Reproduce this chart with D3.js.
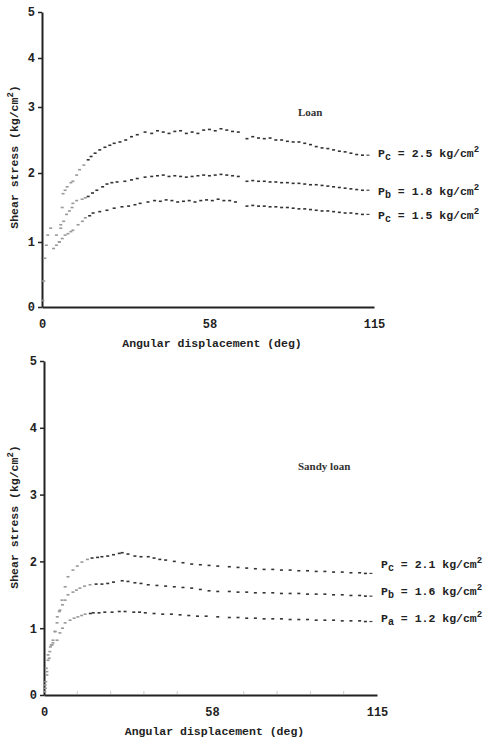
<!DOCTYPE html>
<html>
<head>
<meta charset="utf-8">
<script src="https://cdn.jsdelivr.net/npm/d3@7"></script>
<style>
  body { margin: 0; background: #fff; }
  svg { display: block; }
  .tk text { font-family: "Liberation Mono", monospace; font-weight: bold; font-size: 12px; fill: #222; }
  .lbl { font-family: "Liberation Mono", monospace; font-weight: bold; font-size: 11.5px; fill: #222; }
</style>
</head>
<body>
<svg width="489" height="746"></svg>
<script>
// ---- data: top panel (loan) ----
var loanPc = [[0.3,0.1],[0.6,0.4],[1,0.75],[1.5,0.95],[2,1.1],[3,1.2],[5,1.1],[6,1.0],[6.5,1.25],[7,1.5],[7.3,1.7],[8,1.75],[8.7,1.8],[10,1.86],[10.7,1.88],[12,1.97],[13,2.05],[14.5,2.12],[16,2.2],[17,2.25],[18.4,2.3],[20,2.35],[21.8,2.39],[23.5,2.42],[25,2.45],[27,2.47],[29,2.5],[31,2.55],[33,2.58],[35.7,2.62],[38,2.6],[40,2.64],[42,2.62],[44,2.6],[46,2.63],[48,2.64],[50,2.6],[52,2.62],[54,2.6],[56,2.65],[58,2.66],[60,2.64],[62,2.67],[64,2.65],[66,2.63],[68,2.62],[71,2.52],[73,2.55],[75,2.53],[77,2.52],[79,2.53],[81,2.5],[83,2.5],[85,2.48],[87,2.47],[89,2.47],[91,2.45],[93,2.43],[95,2.4],[97,2.38],[99,2.37],[101,2.35],[103,2.33],[105,2.32],[107,2.3],[109,2.28],[111,2.27]];
var loanPb = [[6.5,1.2],[7.5,1.3],[8.5,1.4],[9.5,1.45],[10.4,1.5],[10.7,1.56],[12,1.6],[13.9,1.62],[15,1.64],[16,1.66],[17.5,1.71],[19,1.75],[21,1.8],[22.5,1.84],[24.2,1.86],[26,1.87],[28.7,1.88],[31,1.9],[33,1.92],[35.7,1.94],[38,1.95],[40,1.96],[42,1.97],[44,1.95],[46,1.96],[48,1.95],[50,1.94],[52,1.95],[54,1.96],[56,1.97],[58,1.96],[60,1.97],[62,1.98],[64,1.97],[66,1.96],[68,1.95],[71,1.88],[73,1.89],[75,1.88],[77,1.88],[79,1.87],[81,1.87],[83,1.86],[85,1.86],[87,1.85],[89,1.85],[91,1.84],[93,1.83],[95,1.83],[97,1.82],[99,1.81],[101,1.8],[103,1.79],[105,1.78],[107,1.77],[109,1.76],[111,1.75]];
var loanPa = [[4,0.9],[5,0.95],[6,1.0],[7,1.05],[8,1.1],[9,1.12],[10,1.15],[10.7,1.17],[12.5,1.25],[14,1.3],[15,1.35],[16.5,1.38],[17.7,1.42],[20,1.44],[22.5,1.46],[25,1.49],[27.7,1.51],[30,1.52],[32.2,1.54],[34,1.56],[36.7,1.58],[39,1.6],[41,1.59],[43,1.61],[45,1.6],[47,1.58],[49,1.59],[51,1.6],[53,1.58],[55,1.6],[57,1.61],[59,1.6],[61,1.62],[63,1.6],[65,1.6],[67,1.58],[71,1.52],[73,1.53],[75,1.52],[77,1.52],[79,1.51],[81,1.51],[83,1.5],[85,1.5],[87,1.49],[89,1.48],[91,1.48],[93,1.47],[95,1.46],[97,1.45],[99,1.45],[101,1.44],[103,1.43],[105,1.42],[107,1.42],[109,1.41],[111,1.4]];
var loanLabels = [{sub: 'c', text: ' = 2.5 kg/cm', at: 2.24}, {sub: 'b', text: ' = 1.8 kg/cm', at: 1.68}, {sub: 'c', text: ' = 1.5 kg/cm', at: 1.33}];

// ---- data: bottom panel (sandy loan) ----
var sandyPc = [[0.3,0.05],[0.6,0.2],[1,0.35],[1.4,0.52],[2,0.65],[2.5,0.75],[3.1,0.82],[3.8,0.95],[4.5,1.08],[5.3,1.25],[6.2,1.42],[7.3,1.62],[8.3,1.77],[10,1.87],[11.5,1.93],[13.1,1.99],[15,2.03],[16.6,2.05],[18.5,2.06],[20,2.07],[22,2.08],[24,2.1],[26,2.12],[27,2.13],[29,2.11],[31.4,2.08],[33.5,2.07],[36,2.07],[38,2.05],[40,2.03],[42,2.02],[45,2.0],[48,1.98],[51,1.96],[54,1.95],[57,1.94],[60,1.93],[64,1.92],[67,1.91],[70,1.9],[73,1.89],[76,1.88],[79,1.88],[82,1.87],[85,1.87],[88,1.86],[91,1.86],[94,1.85],[97,1.85],[100,1.84],[103,1.84],[106,1.83],[109,1.83],[111,1.82]];
var sandyPb = [[0.5,0.1],[1,0.3],[1.8,0.55],[2.8,0.75],[3.8,0.95],[4.6,1.17],[5.5,1.27],[6.4,1.35],[7.3,1.42],[8.3,1.5],[10,1.54],[11.2,1.57],[12.4,1.6],[14,1.63],[15.9,1.65],[18,1.66],[20,1.66],[22,1.67],[24,1.69],[27,1.71],[29,1.7],[31.4,1.68],[33.5,1.67],[36,1.65],[39,1.64],[42,1.63],[45,1.62],[48,1.61],[51,1.6],[54,1.58],[57,1.56],[60,1.55],[64,1.55],[67,1.54],[70,1.54],[73,1.53],[76,1.53],[79,1.53],[82,1.52],[85,1.52],[88,1.52],[91,1.51],[94,1.51],[97,1.51],[100,1.5],[103,1.5],[106,1.49],[109,1.49],[111,1.48]];
var sandyPa = [[0.4,0.15],[0.8,0.4],[1.4,0.6],[2.2,0.72],[3.1,0.78],[4.5,0.82],[5.5,0.93],[6.4,1.0],[7.3,1.08],[9,1.12],[10.4,1.15],[11.7,1.17],[13,1.19],[14.2,1.21],[16,1.22],[17,1.23],[19,1.23],[21,1.24],[23.5,1.24],[26,1.25],[28,1.25],[31,1.24],[33,1.24],[35,1.23],[38,1.22],[41,1.21],[44,1.21],[47,1.2],[50,1.19],[53,1.18],[56,1.18],[60,1.17],[64,1.16],[67,1.16],[70,1.15],[73,1.15],[76,1.14],[79,1.14],[82,1.14],[85,1.13],[88,1.13],[91,1.13],[94,1.12],[97,1.12],[100,1.12],[103,1.11],[106,1.11],[109,1.11],[111,1.1]];
var sandyLabels = [{sub: 'c', text: ' = 2.1 kg/cm', at: 1.9}, {sub: 'b', text: ' = 1.6 kg/cm', at: 1.5}, {sub: 'a', text: ' = 1.2 kg/cm', at: 1.1}];

var yTicks = [0, 1, 2, 3, 4, 5];
var xTicks = [0, 58, 115];
var minorTicks = [11.5, 23, 34.5, 46, 69, 80.5, 92, 103.5];

var svg = d3.select('svg');

// top panel scales (the scanned y axis is uneven, so it is piecewise)
var topX = d3.scaleLinear().domain([0, 115]).range([42, 374]);
var topY = d3.scaleLinear().domain(yTicks).range([307, 242, 173, 107, 58, 12]);
var botX = d3.scaleLinear().domain([0, 115]).range([44, 377]);
var botY = d3.scaleLinear().domain([0, 5]).range([695, 361]);

var drawPanel = function(x, y, series, labels, title, titleY, yLabelMid, minor) {
  var g = svg.append('g');

  // y axis
  var ya = g.append('g')
      .attr('class', 'tk')
      .attr('transform', 'translate(' + x.range()[0] + ',0)')
      .call(d3.axisLeft(y).tickValues(yTicks).tickFormat(d3.format('d')).tickSize(4).tickSizeOuter(0).tickPadding(3));
  ya.select('.domain').attr('stroke', '#222').attr('stroke-width', 2);
  ya.selectAll('.tick line').attr('stroke', '#222').attr('stroke-width', 1.5);

  // x axis
  var xa = g.append('g')
      .attr('class', 'tk')
      .attr('transform', 'translate(0,' + y(0) + ')')
      .call(d3.axisBottom(x).tickValues(xTicks).tickFormat(d3.format('d')).tickSize(0).tickSizeOuter(0).tickPadding(12));
  xa.select('.domain').attr('stroke', '#222').attr('stroke-width', 2);

  if (minor) {
    g.selectAll('.minor')
      .data(minorTicks).enter()
      .append('line')
      .attr('x1', function(d){return x(d)})
      .attr('x2', function(d){return x(d)})
      .attr('y1', y(0) - 1)
      .attr('y2', y(0) - 4)
      .attr('stroke', '#ccc');
  }

  // dotted curves
  series.forEach(function(s) {
    g.append('g').selectAll('rect')
      .data(s).enter()
      .append('rect')
      .attr('x', function(d){return x(d[0]) - 1.5})
      .attr('y', function(d){return y(d[1]) - 0.8})
      .attr('width', 3)
      .attr('height', 1.6)
      .attr('fill', function(d){return d[0] < 16 ? '#999' : '#333'});
    // short leader at the end of each curve
    var last = s[s.length - 1];
    g.append('line')
      .attr('x1', x(last[0]) + 4).attr('x2', x(last[0]) + 7)
      .attr('y1', y(last[1])).attr('y2', y(last[1]))
      .attr('stroke', '#444').attr('stroke-width', 1.2);
  });

  // curve labels
  labels.forEach(function(l) {
    var t = g.append('text')
        .attr('class', 'lbl')
        .attr('x', x(115) + 4)
        .attr('y', y(l.at));
    t.append('tspan').text('P');
    t.append('tspan').attr('baseline-shift', '-3').attr('font-size', '10px').text(l.sub);
    t.append('tspan').text(l.text);
    t.append('tspan').attr('baseline-shift', '5').attr('font-size', '9px').text('2');
  });

  g.append('text')
    .attr('x', 298)
    .attr('y', titleY)
    .style('font-family', '"Liberation Serif", serif')
    .style('font-size', '11px')
    .style('font-weight', 'bold')
    .attr('fill', '#333')
    .text(title);

  var yl = g.append('text')
      .attr('class', 'lbl')
      .attr('text-anchor', 'middle')
      .attr('transform', 'translate(18,' + yLabelMid + ')rotate(-90)');
  yl.append('tspan').text('Shear stress (kg/cm');
  yl.append('tspan').attr('baseline-shift', '5').attr('font-size', '9px').text('2');
  yl.append('tspan').text(')');

  g.append('text')
    .attr('class', 'lbl')
    .attr('text-anchor', 'middle')
    .attr('x', (x(0) + x(115)) / 2 + 4)
    .attr('y', y(0) + 40)
    .text('Angular displacement (deg)');
};

drawPanel(topX, topY, [loanPc, loanPb, loanPa], loanLabels, 'Loan', 116, 157, false);
drawPanel(botX, botY, [sandyPc, sandyPb, sandyPa], sandyLabels, 'Sandy loan', 470, 517, true);
</script>
</body>
</html>
